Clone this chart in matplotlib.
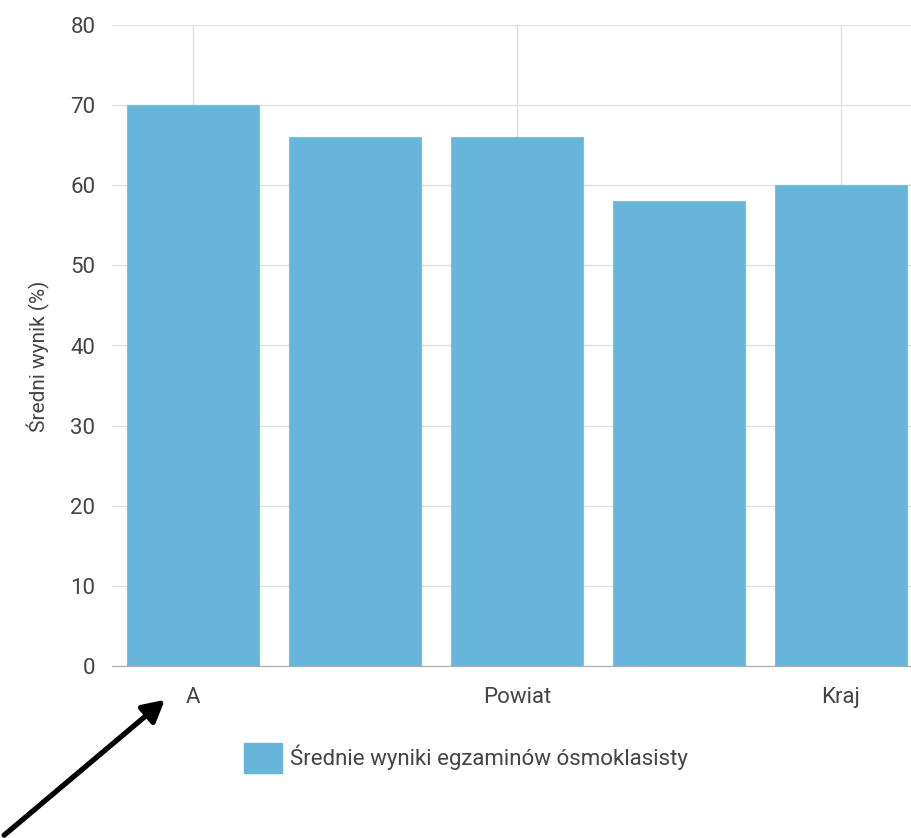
import matplotlib
matplotlib.use("Agg")
import matplotlib.pyplot as plt
from matplotlib.patches import Patch, FancyArrowPatch

plt.rcParams['font.family'] = ['Roboto', 'DejaVu Sans']

categories = ["A", "", "Powiat", "", "Kraj"]
values = [70, 66, 66, 58, 60]
series_name = "Średnie wyniki egzaminów ósmoklasisty"
y_label = "Średni wynik (%)"
y_ticks = [0, 10, 20, 30, 40, 50, 60, 70, 80]

bar_color = "#67b5da"
text_color = "#444444"

fig = plt.figure(figsize=(9.12, 8.38), dpi=100)
ax = fig.add_axes([112 / 912, 1 - 666 / 838, 800 / 912, (666 - 25) / 838])

x = list(range(len(values)))
ax.bar(x, values, width=0.81, color=bar_color, edgecolor="#7cc0e0", linewidth=0.8, zorder=2)

ax.set_xlim(-0.5, -0.5 + 800 / 162)
ax.set_ylim(0, 80)
ax.set_yticks(y_ticks)
shown = [i for i, c in enumerate(categories) if c]
ax.set_xticks(shown)
ax.set_xticklabels([categories[i] for i in shown])

ax.grid(True, color="#e0e0e0", linewidth=1, zorder=0)
ax.set_axisbelow(True)
for s in ["top", "right", "left"]:
    ax.spines[s].set_visible(False)
ax.spines["bottom"].set_color("#aaaaaa")
ax.spines["bottom"].set_zorder(3)
ax.tick_params(axis="both", length=0, labelsize=16, labelcolor=text_color)
ax.tick_params(axis="y", pad=12)
ax.tick_params(axis="x", pad=15)

fig.text(38 / 912, 1 - 356 / 838, y_label, rotation=90, ha="center", va="center",
         fontsize=15, color=text_color)

handle = Patch(facecolor=bar_color, edgecolor=bar_color)
fig.legend([handle], [series_name], loc="center left",
           bbox_to_anchor=(224 / 912, 1 - 758 / 838), frameon=False,
           fontsize=16, labelcolor=text_color, handlelength=1.7, handleheight=1.7,
           handletextpad=0.36)

# arrow pointing at the "A" label
fig.patches.append(FancyArrowPatch(
    (2 / 912, 1 - 837 / 838), (167 / 912, 1 - 698 / 838),
    transform=fig.transFigure, arrowstyle="-|>,head_length=13,head_width=7",
    mutation_scale=1, color="black", linewidth=3.8))

fig.savefig("out.png", dpi=100)
